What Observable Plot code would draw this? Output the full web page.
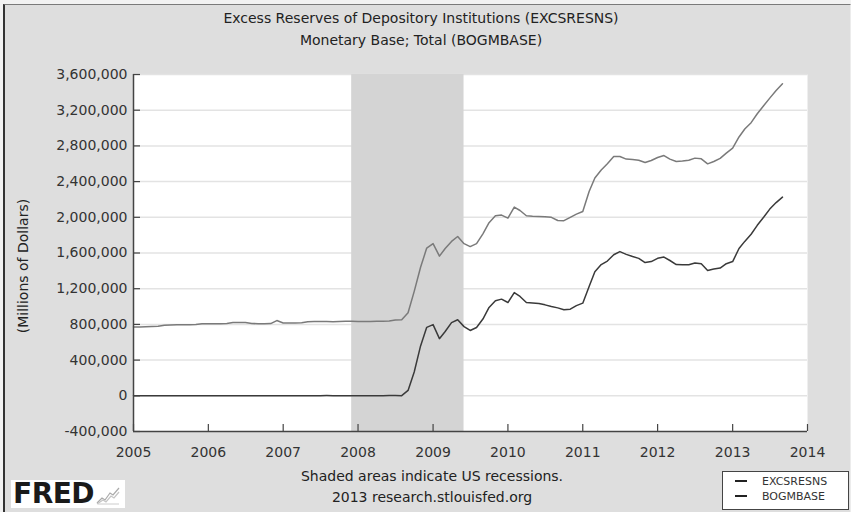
<!DOCTYPE html>
<html><head><meta charset="utf-8">
<script src="https://cdn.jsdelivr.net/npm/d3@7"></script>
<script src="https://cdn.jsdelivr.net/npm/@observablehq/plot@0.6"></script>
<style>
html,body{margin:0;padding:0;background:#f2f2f2;}
#wrap{position:relative;width:851px;height:512px;overflow:hidden;background:#f2f2f2;font-family:"DejaVu Sans",Verdana,sans-serif;}
#panel{position:absolute;left:3px;top:4px;width:845px;height:508px;background:#dedede;border-left:2px solid #333;border-top:1px solid #7a7a7a;border-right:1px solid #ececec;}
#chart{position:absolute;left:0;top:0;}
.t{position:absolute;white-space:nowrap;color:#222;text-align:center;}
#legend{position:absolute;left:722px;top:471px;width:125px;height:37px;background:#fff;border:1px solid #444;}
.lg{position:absolute;left:12px;font-size:11px;color:#333;line-height:13px;}
.lg span{display:inline-block;width:12px;height:2px;background:#222;vertical-align:middle;margin-right:15px;position:relative;top:-1px;}
#fred{position:absolute;left:11px;top:480px;width:114px;height:28px;background:#fff;}
#fredtxt{position:absolute;left:2px;top:-2px;font-weight:bold;font-size:28px;line-height:32px;color:#1a1a1a;letter-spacing:-0.5px;}
</style></head><body>
<div id="wrap">
  <div id="panel"></div>
  <div id="chart"></div>
  <div class="t" style="left:0;width:842px;top:10px;font-size:14px;line-height:16px;">Excess Reserves of Depository Institutions (EXCSRESNS)</div>
  <div class="t" style="left:0;width:842px;top:32px;font-size:14px;line-height:16px;">Monetary Base; Total (BOGMBASE)</div>
  <div class="t" style="left:0;width:864px;top:468px;font-size:14px;line-height:16px;">Shaded areas indicate US recessions.</div>
  <div class="t" style="left:0;width:864px;top:489px;font-size:14px;line-height:16px;">2013 research.stlouisfed.org</div>
  <div class="t" style="left:-77px;width:200px;top:258px;font-size:14px;line-height:16px;transform:rotate(-90deg);">(Millions of Dollars)</div>
  <div id="legend">
    <div class="lg" style="top:3px;"><span></span>EXCSRESNS</div>
    <div class="lg" style="top:18px;"><span></span>BOGMBASE</div>
  </div>
  <div id="fred">
    <div id="fredtxt">FRED</div>
    <svg style="position:absolute;left:84px;top:5px;" width="26" height="20" viewBox="0 0 26 20">
      <polyline points="2,18 7,13 10,15 15,8 18,10 24,3" fill="none" stroke="#aaa" stroke-width="1.2"/>
      <polyline points="2,19 8,15 11,17 16,11 19,13 24,7" fill="none" stroke="#c4c4c4" stroke-width="1.2"/>
      <polyline points="3,19 24,19" fill="none" stroke="#ccc" stroke-width="1"/>
    </svg>
  </div>
</div>
<script>
// Monthly values, millions of dollars, Jan 2005 .. Sep 2013
const startMonth = "2005-01-01";
const bogmbase = [
  770000,772000,774000,776000,778000,790000,793000,795000,796000,797000,799000,806000,
  806000,807000,808000,810000,820000,821000,822000,810000,808000,808000,809000,843000,
  816000,815000,816000,818000,830000,832000,833000,832000,831000,833000,834000,836000,
  833000,832000,833000,834000,836000,838000,848000,851000,930000,1170000,1440000,1655000,
  1705000,1565000,1650000,1730000,1785000,1705000,1672000,1705000,1815000,1940000,2017000,2025000,
  1991000,2114000,2076000,2017000,2012000,2009000,2005000,2000000,1964000,1962000,2000000,2035000,
  2065000,2289000,2440000,2530000,2600000,2680000,2681000,2652000,2648000,2640000,2614000,2637000,
  2670000,2692000,2652000,2625000,2630000,2640000,2663000,2655000,2599000,2625000,2660000,2719000,
  2775000,2900000,2990000,3060000,3160000,3250000,3335000,3420000,3496000
];
const excsresns = [
  1600,1500,1700,1600,1500,1800,1700,1600,1900,1700,1800,1900,
  1800,1600,1700,1600,1500,1700,1600,1700,1800,1600,1700,1900,
  1700,1600,1600,1600,1700,1600,1600,2000,1800,1600,1700,1900,
  1600,1700,1800,1800,1900,2100,2000,1900,60000,267000,559000,767000,
  798000,640000,720000,820000,852000,775000,732000,765000,860000,990000,1065000,1083000,
  1045000,1157000,1113000,1045000,1040000,1035000,1019000,1000000,985000,964000,971000,1010000,
  1038000,1224000,1390000,1470000,1510000,1580000,1616000,1585000,1560000,1540000,1493000,1504000,
  1540000,1554000,1516000,1470000,1468000,1468000,1487000,1479000,1404000,1420000,1431000,1480000,
  1504000,1650000,1730000,1810000,1910000,2000000,2092000,2165000,2226000
];
const yTicks = [-400000,0,400000,800000,1200000,1600000,2000000,2400000,2800000,3200000,3600000];
const yearTicks = ["2005","2006","2007","2008","2009","2010","2011","2012","2013","2014"];
const recessions = [{start: "2007-12-01", end: "2009-06-01"}];

const months = d3.utcMonth.range(new Date(startMonth), new Date(Date.UTC(2013, 9, 1)));
const rows = [];
months.forEach((d, i) => {
  rows.push({date: d, value: bogmbase[i], series: "BOGMBASE"});
  rows.push({date: d, value: excsresns[i], series: "EXCSRESNS"});
});
const years = yearTicks.map(y => new Date(y + "-01-01"));
const rec = recessions.map(r => ({start: new Date(r.start), end: new Date(r.end)}));

const W = 851, H = 512, mL = 133, mR = 44, mT = 74, mB = 81;
const plot = Plot.plot({
  width: W, height: H,
  marginLeft: mL, marginRight: mR, marginTop: mT, marginBottom: mB,
  style: {background: "transparent", fontFamily: "DejaVu Sans, Verdana, sans-serif", fontSize: "14px", color: "#333", overflow: "visible"},
  x: {type: "utc", domain: [years[0], years[years.length - 1]]},
  y: {domain: [-400000, 3600000]},
  color: {domain: ["EXCSRESNS", "BOGMBASE"], range: ["#3a3a3a", "#7a7a7a"]},
  marks: [
    Plot.frame({fill: "white", stroke: "none"}),
    Plot.ruleY(yTicks.slice(1), {stroke: "#e3e3e3", strokeWidth: 1.5}),
    Plot.rectX(rec, {x1: "start", x2: "end", fill: "#d4d4d4"}),
    Plot.lineY(rows, {x: "date", y: "value", z: "series", stroke: "series", strokeWidth: 1.5}),
    Plot.ruleX([years[0]], {stroke: "#444", strokeWidth: 1.5}),
    Plot.ruleY([-400000], {stroke: "#444", strokeWidth: 1.5}),
    Plot.tickY(yTicks, {y: d => d, stroke: "#444", strokeWidth: 1.2, insetRight: W - mL - mR - 7}),
    Plot.tickX(years, {x: d => d, stroke: "#444", strokeWidth: 1.2, insetTop: H - mT - mB - 7}),
    Plot.axisY(yTicks, {tickSize: 0, tickPadding: 6, tickFormat: d => d.toLocaleString("en-US"), label: null, fill: "#333"}),
    Plot.axisX(years, {tickSize: 0, tickPadding: 16, tickFormat: d3.utcFormat("%Y"), label: null, fill: "#333"})
  ]
});
document.getElementById("chart").appendChild(plot);
</script>
</body></html>
